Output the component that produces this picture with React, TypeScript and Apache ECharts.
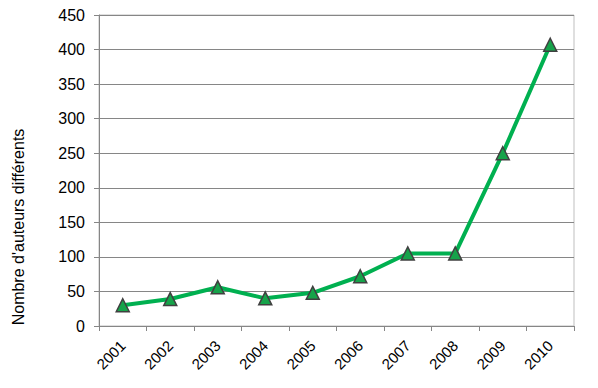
import React, { useEffect, useRef } from "react";
import * as echarts from "echarts";

const years = ["2001", "2002", "2003", "2004", "2005", "2006", "2007", "2008", "2009", "2010"];
const authors = [30, 39, 56, 40, 48, 72, 105, 105, 250, 407];
const yTitle = "Nombre d'auteurs différents";

const FONT = "'Liberation Sans', Arial, sans-serif";

export default function App() {
  const ref = useRef<HTMLDivElement>(null);
  useEffect(() => {
    if (!ref.current) return;
    const chart = echarts.init(ref.current, undefined, { renderer: "svg" });
    chart.setOption({
      animation: false,
      backgroundColor: "#ffffff",
      grid: { left: 99, right: 24, top: 15, bottom: 62, show: true, borderColor: "#bfbfbf", borderWidth: 1 },
      graphic: [
        {
          type: "text",
          x: 18,
          y: 227,
          rotation: Math.PI / 2,
          style: {
            text: yTitle,
            fill: "#000",
            font: `16px ${FONT}`,
            align: "center",
            verticalAlign: "middle",
          },
        },
      ],
      xAxis: {
        type: "category",
        data: years,
        boundaryGap: true,
        axisLine: { lineStyle: { color: "#868686", width: 1 } },
        axisTick: { show: true, alignWithLabel: false, length: 5, lineStyle: { color: "#868686" } },
        axisLabel: {
          rotate: 45,
          color: "#000",
          fontFamily: FONT,
          fontSize: 15,
          margin: 17,
          interval: 0,
        },
      },
      yAxis: {
        type: "value",
        min: 0,
        max: 450,
        interval: 50,
        axisLine: { show: true, lineStyle: { color: "#868686", width: 1 } },
        axisTick: { show: true, length: 5, lineStyle: { color: "#868686" } },
        splitLine: { show: true, lineStyle: { color: "#868686", width: 1 } },
        axisLabel: {
          color: "#000",
          fontFamily: FONT,
          fontSize: 16,
          margin: 14,
        },
      },
      series: [
        {
          type: "line",
          data: authors,
          lineStyle: { color: "#00b050", width: 4 },
          symbol: "triangle",
          symbolSize: 13,
          itemStyle: { color: "#16a34a", borderColor: "#404040", borderWidth: 1.5 },
          z: 3,
        },
      ],
    });
    return () => chart.dispose();
  }, []);
  return (
    <div style={{ position: "absolute", left: 0, top: 0 }}>
      <div ref={ref} style={{ width: 598, height: 388 }} />
    </div>
  );
}
